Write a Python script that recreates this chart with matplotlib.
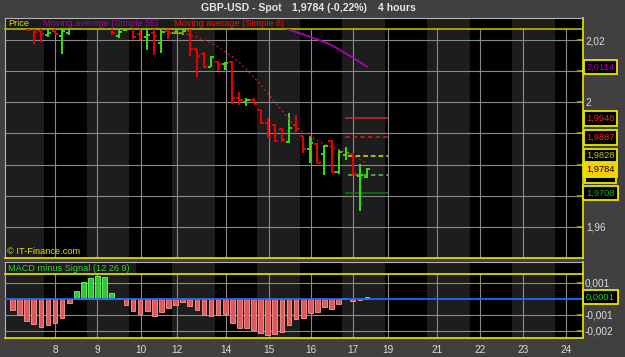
import numpy as np
import matplotlib
matplotlib.use('Agg')
import matplotlib.pyplot as plt
from matplotlib.patches import Rectangle
from matplotlib.transforms import blended_transform_factory as btf

plt.rcParams['font.family'] = ['Liberation Sans', 'DejaVu Sans']

# ---------------- data (4-hour bars) ----------------
opens = [2.0258, 2.0252, 2.0258, 2.0245, 2.0229, 2.0216, 2.0229, 2.0213, 2.0223, 2.0245,
         2.0270, 2.0262, 2.0280, 2.0268, 2.0249, 2.0213, 2.0232, 2.0239, 2.0220, 2.0210,
         2.0223, 2.0191, 2.0229, 2.0223, 2.0223, 2.0229, 2.0171, 2.0154, 2.0115, 2.0128,
         2.0122, 2.0131, 2.0015, 2.0000, 2.0009, 1.9974, 1.9933, 1.9927, 1.9914, 1.9873,
         1.9927, 1.9892, 1.9849, 1.9865, 1.9833, 1.9876, 1.9777, 1.9831, 1.9834, 1.9764,
         1.9759]
highs = [2.0281, 2.0275, 2.0271, 2.0265, 2.0252, 2.0249, 2.0245, 2.0252, 2.0258, 2.0290,
         2.0300, 2.0295, 2.0310, 2.0290, 2.0275, 2.0260, 2.0265, 2.0258, 2.0252, 2.0245,
         2.0242, 2.0239, 2.0239, 2.0231, 2.0235, 2.0236, 2.0171, 2.0161, 2.0149, 2.0133,
         2.0130, 2.0134, 2.0032, 2.0013, 2.0013, 1.9975, 1.9949, 1.9930, 1.9916, 1.9965,
         1.9959, 1.9892, 1.9892, 1.9868, 1.9863, 1.9879, 1.9849, 1.9857, 1.9836, 1.9801,
         1.9788]
lows = [2.0242, 2.0240, 2.0228, 2.0187, 2.0194, 2.0210, 2.0220, 2.0154, 2.0216, 2.0241,
        2.0255, 2.0250, 2.0262, 2.0245, 2.0216, 2.0208, 2.0228, 2.0204, 2.0201, 2.0167,
        2.0152, 2.0158, 2.0204, 2.0220, 2.0218, 2.0150, 2.0082, 2.0111, 2.0114, 2.0102,
        2.0104, 1.9994, 1.9991, 1.9989, 1.9993, 1.9930, 1.9886, 1.9873, 1.9873, 1.9868,
        1.9903, 1.9836, 1.9806, 1.9804, 1.9767, 1.9774, 1.9770, 1.9815, 1.9766, 1.9651,
        1.9756]
closes = [2.0252, 2.0262, 2.0231, 2.0226, 2.0220, 2.0223, 2.0221, 2.0229, 2.0239, 2.0270,
          2.0262, 2.0280, 2.0268, 2.0252, 2.0223, 2.0226, 2.0239, 2.0210, 2.0211, 2.0216,
          2.0213, 2.0226, 2.0223, 2.0224, 2.0229, 2.0170, 2.0150, 2.0115, 2.0147, 2.0122,
          2.0125, 2.0013, 2.0007, 2.0007, 1.9994, 1.9933, 1.9888, 1.9876, 1.9879, 1.9916,
          1.9913, 1.9849, 1.9868, 1.9805, 1.9861, 1.9777, 1.9841, 1.9836, 1.9770, 1.9766,
          1.9784]
nan = np.nan
ma8 = [nan] * 22 + [2.0229, 2.0226, 2.0223, 2.0216, 2.0210, 2.0200, 2.0191, 2.0178, 2.0162,
                    2.0147, 2.0128, 2.0105, 2.0081, 2.0057, 2.0030, 2.0001, 1.9974, 1.9945,
                    1.9922, 1.9903, 1.9890, 1.9877, 1.9866, 1.9856, 1.9848, 1.9840, 1.9829,
                    1.9816, 1.9803]
ma55 = [nan] * 37 + [2.0250, 2.0242, 2.0234, 2.0226, 2.0218, 2.0210, 2.0202, 2.0194, 2.0184,
                     2.0171, 2.0157, 2.0144, 2.0129, 2.0114]
macd_hist = [-0.00067, -0.00102, -0.00139, -0.00156, -0.00175, -0.00164, -0.00152, -0.00121,
             -0.00023, 0.00048, 0.00104, 0.00131, 0.00144, 0.00138, 0.00038, 0.00004,
             -0.00036, -0.00073, -0.00092, -0.00073, -0.00108, -0.00081, -0.00056, -0.00036,
             -0.00017, -0.00046, -0.00071, -0.00100, -0.00108, -0.00100, -0.00092, -0.00148,
             -0.00183, -0.00183, -0.00194, -0.00211, -0.00225, -0.00221, -0.00208, -0.00161,
             -0.00125, -0.00119, -0.00086, -0.00081, -0.00048, -0.00064, -0.00029, 0.00005,
             -0.00014, -0.00008, 0.00012]

x_tick_pos = [6, 11.95, 18.15, 23.2, 30.05, 36.15, 42.1, 48.0, 53.0, 59.9, 66.0, 72.0, 78.05]
x_tick_labels = ['8', '9', '10', '12', '14', '15', '16', '17', '19', '21', '22', '23', '24']

price_ticks = [1.96, 1.97, 1.98, 1.99, 2.00, 2.01, 2.02]
price_tick_labels = ['1,96', '', '', '', '2', '', '2,02']
macd_ticks = [-0.002, -0.001, 0.001]
macd_tick_labels = ['-0,002', '-0,001', '0,001']

pivot_levels = [1.9948, 1.9887, 1.9828, 1.9766, 1.9708]
pivot_texts = ['1,9948', '1,9887', '1,9828', '1,9766', '1,9708']
pivot_colors = ['#d02828', '#d02020', '#e6e600', '#4fc44f', '#0b7a0b']
pivot_styles = ['-', (0, (3, 2)), (0, (3, 2)), (0, (3, 2)), '-']
last_price = 1.9784
last_price_text = '1,9784'
ma55_text = '2,0114'
macd_text = '0,0001'

# ---------------- layout ----------------
W, H = 625, 357
fig = plt.figure(figsize=(W / 100, H / 100), dpi=100, facecolor='#404040')


def add_ax(x0, y0, x1, y1):
    return fig.add_axes([x0 / W, 1 - y1 / H, (x1 - x0) / W, (y1 - y0) / H])


ax_ps = add_ax(5, 18, 583, 29)
ax_p = add_ax(5, 29, 583, 258)
ax_ms = add_ax(5, 262, 583, 274)
ax_m = add_ax(5, 274, 583, 338)

XL = (-1.06, 80.47)
n = len(closes)
idx = np.arange(n)
band_starts = np.arange(-1.5, 81, 12)
GRAY_BAND = '#1d1d1d'
FRAME = '#b4b4b4'
YEL = '#e8e800'
GRID = '#8a8a8a'

for a in (ax_ps, ax_p, ax_ms, ax_m):
    a.set_facecolor('black')
    a.set_xlim(XL)
    for s in band_starts:
        a.axvspan(s, s + 6, color=GRAY_BAND, lw=0, zorder=0)
    a.spines['left'].set_color(FRAME)
    a.spines['right'].set_color(YEL)
    a.spines['right'].set_linewidth(1.2)
    a.set_axisbelow(True)

for a in (ax_ps, ax_ms):
    a.set_ylim(0, 1)
    a.set_xticks([])
    a.set_yticks([])
    a.spines['top'].set_color(FRAME)
    a.spines['bottom'].set_visible(False)

# legend boxes in strips
ax_ps.axvspan(XL[0], 40.3, color='#1b1b1b', lw=0, zorder=0.5)
ax_ms.axvspan(XL[0], 17.4, color='#1b1b1b', lw=0, zorder=0.5)

# ---------------- price panel ----------------
ax_p.set_ylim(1.949936, 2.023569)
ax_p.spines['top'].set_color('#b8b800')
ax_p.spines['bottom'].set_color(YEL)
ax_p.spines['top'].set_linewidth(1.2)
ax_p.spines['bottom'].set_linewidth(1.2)
ax_p.set_xticks(x_tick_pos)
ax_p.set_yticks(price_ticks)
ax_p.set_yticklabels(price_tick_labels)
ax_p.yaxis.tick_right()
ax_p.tick_params(axis='y', direction='in', length=4, width=1.2, color='#a8a800',
                 labelcolor='#dcdcdc', labelsize=7.2, pad=2)
ax_p.tick_params(axis='x', length=0, labelbottom=False)
ax_p.grid(True, color=GRID, lw=0.8)

o = np.array(opens); c = np.array(closes)
up = c >= o
cols = np.where(up, '#3ade14', '#ec0000')
ax_p.vlines(idx, lows, highs, colors=cols, lw=1.4, zorder=4)
ax_p.hlines(opens, idx - 0.45, idx, colors=cols, lw=1.4, zorder=4)
ax_p.hlines(closes, idx, idx + 0.45, colors=cols, lw=1.4, zorder=4)

ax_p.plot(idx, ma55, color='#b000b0', lw=1.3, zorder=5)
ax_p.plot(idx, ma8, color='#e01818', lw=0.9, ls=(0, (1.5, 2.2)), zorder=5)

piv_x0 = [46.9, 46.9, 47.3, 47.3, 46.9]
for lev, col, st, xs in zip(pivot_levels, pivot_colors, pivot_styles, piv_x0):
    ax_p.hlines(lev, xs, 53.0, colors=col, linestyles=[st], lw=1.1, zorder=3)

# right-hand value boxes
tr_p = btf(fig.transFigure, ax_p.transData)


def value_box(ax, tr, y, text, tcol, fcol='black', z=10):
    ax.text(600.5 / W, y, text, transform=tr, ha='center', va='center',
            fontsize=6.7, color=tcol, clip_on=False, zorder=z,
            bbox=dict(boxstyle='square,pad=0.3', fc=fcol, ec=YEL, lw=1.3))


value_box(ax_p, tr_p, ma55[-1], ma55_text, '#b000b0', z=10)
z = 11
text_cols = ['#ff2020', '#ff2020', '#c8c800', '#22cc22', '#10b010']
for lev, t, tc in zip(pivot_levels[:3], pivot_texts[:3], text_cols[:3]):
    value_box(ax_p, tr_p, lev, t, tc, z=z)
    z += 1
# support-1 box lies almost fully beneath the last-price box: draw only its frame
ylo, yhi = ax_p.get_ylim()
bh = 15.0 * (yhi - ylo) / (229.0)
ax_p.add_patch(Rectangle((584.5 / W, pivot_levels[3] - bh / 2), 31.5 / W, bh, transform=tr_p,
                         fc='black', ec=YEL, lw=1.3, clip_on=False, zorder=14))
value_box(ax_p, tr_p, last_price, last_price_text, 'black', fcol='#ffcc00', z=20)
value_box(ax_p, tr_p, pivot_levels[4], pivot_texts[4], text_cols[4], z=21)

# ---------------- MACD panel ----------------
ax_m.set_ylim(-0.0024375, 0.0015625)
ax_m.spines['top'].set_color(YEL)
ax_m.spines['bottom'].set_color(YEL)
ax_m.spines['top'].set_linewidth(1.2)
ax_m.spines['bottom'].set_linewidth(1.2)
ax_m.set_yticks(macd_ticks)
ax_m.set_yticklabels(macd_tick_labels)
ax_m.yaxis.tick_right()
ax_m.tick_params(axis='y', direction='in', length=4, width=1.2, color='#a8a800',
                 labelcolor='#dcdcdc', labelsize=7.2, pad=1)
ax_m.set_xticks(x_tick_pos)
ax_m.set_xticklabels(x_tick_labels)
ax_m.tick_params(axis='x', length=0, pad=5, labelcolor='#dcdcdc', labelsize=7.2)
ax_m.grid(True, color=GRID, lw=0.8)

h = np.array(macd_hist)
fc = np.where(h >= 0, '#30c830', '#e05858')
ec = np.where(h >= 0, '#70ff70', '#ff9a9a')
ax_m.bar(idx, h, width=0.66, color=fc, edgecolor=ec, lw=0.6, zorder=3)
ax_m.axhline(0, color='#1a6cff', lw=1.3, zorder=4)

tr_m = btf(fig.transFigure, ax_m.transData)
value_box(ax_m, tr_m, macd_hist[-1], macd_text, '#22dd22', z=10)

# ---------------- texts ----------------
tc = '#e6e6e6'
fig.text(201 / W, 1 - 8 / H, 'GBP-USD - Spot', ha='left', va='center', color=tc,
         fontsize=7.6, weight='bold')
fig.text(291.5 / W, 1 - 8 / H, '1,9784 (-0,22%)', ha='left', va='center', color=tc,
         fontsize=7.6, weight='bold')
fig.text(378 / W, 1 - 8 / H, '4 hours', ha='left', va='center', color=tc,
         fontsize=7.6, weight='bold')

fig.text(8 / W, 1 - 24 / H, 'Price', ha='left', va='center', color='#e0e000', fontsize=6.6)
fig.text(43 / W, 1 - 24 / H, 'Moving average (Simple 55)', ha='left', va='center',
         color='#a800a8', fontsize=6.6)
fig.text(174 / W, 1 - 24 / H, 'Moving average (Simple 8)', ha='left', va='center',
         color='#ee1111', fontsize=6.6)
fig.text(8 / W, 1 - 268.5 / H, 'MACD minus Signal (12 26 9)', ha='left', va='center',
         color='#3cd23c', fontsize=6.6)
fig.text(7 / W, 1 - 252 / H, '\u00a9 IT-Finance.com', ha='left', va='center',
         color='#e0e000', fontsize=6.7)

fig.savefig('out.png', dpi=100, facecolor=fig.get_facecolor())
